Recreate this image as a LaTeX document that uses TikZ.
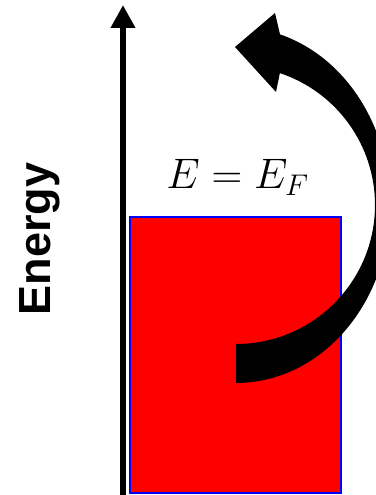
\documentclass[tikz,border=0pt]{standalone}
\usepackage{fix-cm}
\usepackage{fontspec}
\newfontfamily\axisfont{Liberation Sans}
\usetikzlibrary{arrows.meta}
\definecolor{cSea}{RGB}{255, 0, 0}
\definecolor{bSea}{RGB}{0, 0, 255}

\begin{document}
\begin{tikzpicture}[
    x=0.75pt, y=-0.75pt,
    axis/.style={line width=4.9pt, -{Triangle[length=17.25pt, width=17.5pt]}},
    sea/.style={fill=cSea, draw=bSea, line width=1.5pt},
    lbl/.style={inner sep=0pt, text=black}
]
\useasboundingbox (0,0) rectangle (375,495);

% energy axis
\coordinate (ax0) at (123,495);
\coordinate (ax1) at (123,5);
\draw[axis] (ax0) -- (ax1);

\node[lbl, rotate=90, anchor=base, font=\axisfont\bfseries\fontsize{33.75}{40}\selectfont] (ename) at (50,239) {Energy};

% filled states
\draw[sea] (130,217) rectangle (341,493);

\node[lbl, anchor=base, font=\fontsize{32}{38}\selectfont] (fermi) at (237.5,189) {$E = E_F$};

% curved arrow
\fill (236,344) arc[start angle=90, end angle=-71.6, radius=139]
    -- (276,92) -- (235,47) -- (275,13) -- (280,34.4)
    arc[start angle=-73.4, end angle=90, x radius=154, y radius=178] -- cycle;

\end{tikzpicture}
\end{document}
